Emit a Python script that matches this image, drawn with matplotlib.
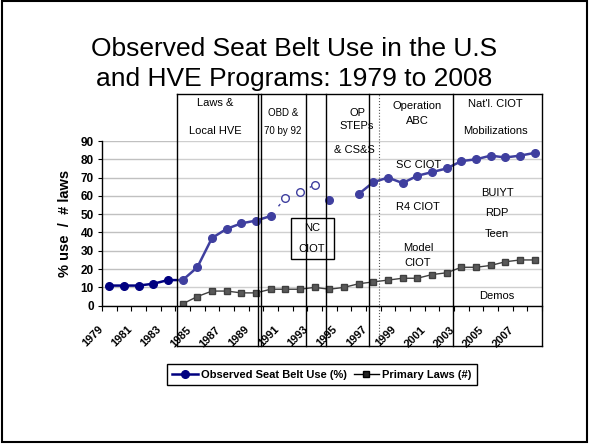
import numpy as np
import matplotlib
matplotlib.use("Agg")
import matplotlib.pyplot as plt
import matplotlib.transforms as mtrans
from matplotlib.patches import Rectangle

plt.rcParams['font.family'] = ['Liberation Sans', 'DejaVu Sans']

# data
years = np.arange(1979, 2009)
nan = np.nan
belt_use = [11, 11, 11, 12, 14, 14, 21, 37, 42, 45, 46.5, 49,
            nan, nan, nan, 58, nan, 61, 67.5, 70, 67, 71, 73, 75,
            79, 80, 82, 81, 82, 83.5]
# 1991-1993 estimates (open circles, dashed)
est_years = [1990, 1991, 1992, 1993]
est_use = [49, 59, 62, 66]
primary_laws = [nan, nan, nan, nan, nan, 1, 5, 8, 8, 7, 7, 9, 9, 9, 10, 9,
                10, 12, 13, 14, 15, 15, 17, 18, 21, 21, 22, 24, 25, 25]
tick_years = years[::2]

navy = '#000080'

fig = plt.figure(figsize=(5.89, 4.44), dpi=100)
W, H = 589, 444
ax = fig.add_axes([102 / W, (H - 305.7) / H, 440 / W, 164.7 / H])

l1, = ax.plot(years, belt_use, color=navy, lw=1.8, marker='o', ms=5.5,
              mfc=navy, mec=navy, zorder=3, label='Observed Seat Belt Use (%)')
ax.plot(est_years, est_use, color=navy, lw=1, ls=(0, (2, 7)), zorder=3)
ax.plot(est_years[1:], est_use[1:], ls='none', marker='o', ms=5.5,
        mfc='white', mec=navy, mew=1, zorder=3)
l2, = ax.plot(years, primary_laws, color='black', lw=1, marker='s', ms=4,
              mfc='#222222', mec='black', zorder=3, label='Primary Laws (#)')

ax.set_xlim(1978.5, 2008.5)
ax.set_ylim(0, 90)
ax.set_yticks(range(0, 91, 10))
ax.yaxis.grid(True, color='#c0c0c0', lw=1)
ax.set_axisbelow(True)
for s in ['top', 'right']:
    ax.spines[s].set_visible(False)
for s in ['left', 'bottom']:
    ax.spines[s].set_zorder(4)
    ax.spines[s].set_linewidth(1)
ax.tick_params(axis='y', length=3, pad=3, labelsize=8.5)
for lab in ax.get_yticklabels():
    lab.set_fontweight('bold')

ax.set_xticks(np.arange(1978.5, 2009, 1))
ax.set_xticklabels([])
ax.tick_params(axis='x', which='major', length=3.5)
ax.set_xticks(tick_years, minor=True)
ax.set_xticklabels([str(y) for y in tick_years], minor=True, rotation=45,
                   ha='right', va='center', rotation_mode='anchor',
                   fontsize=8, fontweight='bold')
ax.tick_params(axis='x', which='minor', length=0, pad=16)
offset = mtrans.ScaledTranslation(-0.08, 0, fig.dpi_scale_trans)
for lab in ax.get_xticklabels(minor=True):
    lab.set_transform(lab.get_transform() + offset)

fig.text(65 / W, 1 - 223 / H, '% use  /  # laws', rotation=90, ha='center',
         va='center', fontsize=10.5, fontweight='bold')

# program boxes drawn over the chart
top, bot = 115.7, -22.0
ax.add_patch(Rectangle((1983.61, -0.6), 2008.5 - 1983.61, top + 0.6,
                       facecolor='white', alpha=0.25, lw=0, zorder=3.5,
                       clip_on=False))
ax.plot([1983.61, 2008.5], [top, top], color='black', lw=1, zorder=5, clip_on=False)
ax.plot([1983.61, 2008.5], [bot, bot], color='black', lw=1, zorder=5, clip_on=False)
for x in [1983.61, 1989.14, 1989.31, 1992.41, 1993.74, 1996.72, 2002.43, 2008.5]:
    ax.plot([x, x], [bot, top], color='black', lw=1, zorder=5, clip_on=False)
ax.plot([1997.40, 1997.40], [bot, top], color='#555555', lw=0.8, ls=':',
        zorder=5, clip_on=False)
ax.add_patch(Rectangle((1991.37, 25.5), 1994.34 - 1991.37, 47.8 - 25.5,
                       fill=False, ec='black', lw=1, zorder=5, clip_on=False))

notes = [
    (1986.2, 110.8, 'Laws &', 8), (1986.2, 95.5, 'Local HVE', 8),
    (1990.84, 105.3, 'OBD &', 7), (1990.84, 95.5, '70 by 92', 7),
    (1995.89, 105.3, 'OP', 8), (1995.89, 98.2, 'STEPs', 8),
    (1995.68, 85.1, '& CS&S', 8),
    (2000.0, 109.1, 'Operation', 8), (2000.0, 100.9, 'ABC', 8),
    (2005.3, 110.2, "Nat'l. CIOT", 8), (2005.3, 95.5, 'Mobilizations', 8),
    (2000.05, 76.9, 'SC CIOT', 8), (2000.05, 53.9, 'R4 CIOT', 8),
    (2000.05, 31.5, 'Model', 8), (2000.05, 23.3, 'CIOT', 8),
    (2005.43, 61.6, 'BUIYT', 8), (2005.43, 50.7, 'RDP', 8),
    (2005.43, 39.2, 'Teen', 8), (2005.43, 5.3, 'Demos', 8),
    (1992.82, 42.5, 'NC', 8), (1992.82, 31.0, 'CIOT', 8),
]
for x, y, t, fs in notes:
    ax.text(x, y, t, ha='center', va='center', fontsize=fs, zorder=6,
            clip_on=False)

fig.text(0.5, 1 - 64 / H, 'Observed Seat Belt Use in the U.S\nand HVE Programs: 1979 to 2008',
         ha='center', va='center', fontsize=19, linespacing=1.3)

leg = fig.legend(handles=[l1, l2], loc='center', ncol=2,
                 bbox_to_anchor=(322 / W, 1 - 374.5 / H),
                 prop={'size': 8, 'weight': 'bold'}, frameon=True,
                 fancybox=False, framealpha=1, edgecolor='black',
                 handlelength=2.3, handletextpad=0.3, columnspacing=0.6,
                 borderpad=0.5, borderaxespad=0)
leg.get_frame().set_linewidth(1)

fig.add_artist(Rectangle((1.5 / W, 2 / H), 585.5 / W, 440.5 / H,
                         transform=fig.transFigure, fill=False,
                         ec='black', lw=1.5))

fig.savefig('out.png', dpi=100)
